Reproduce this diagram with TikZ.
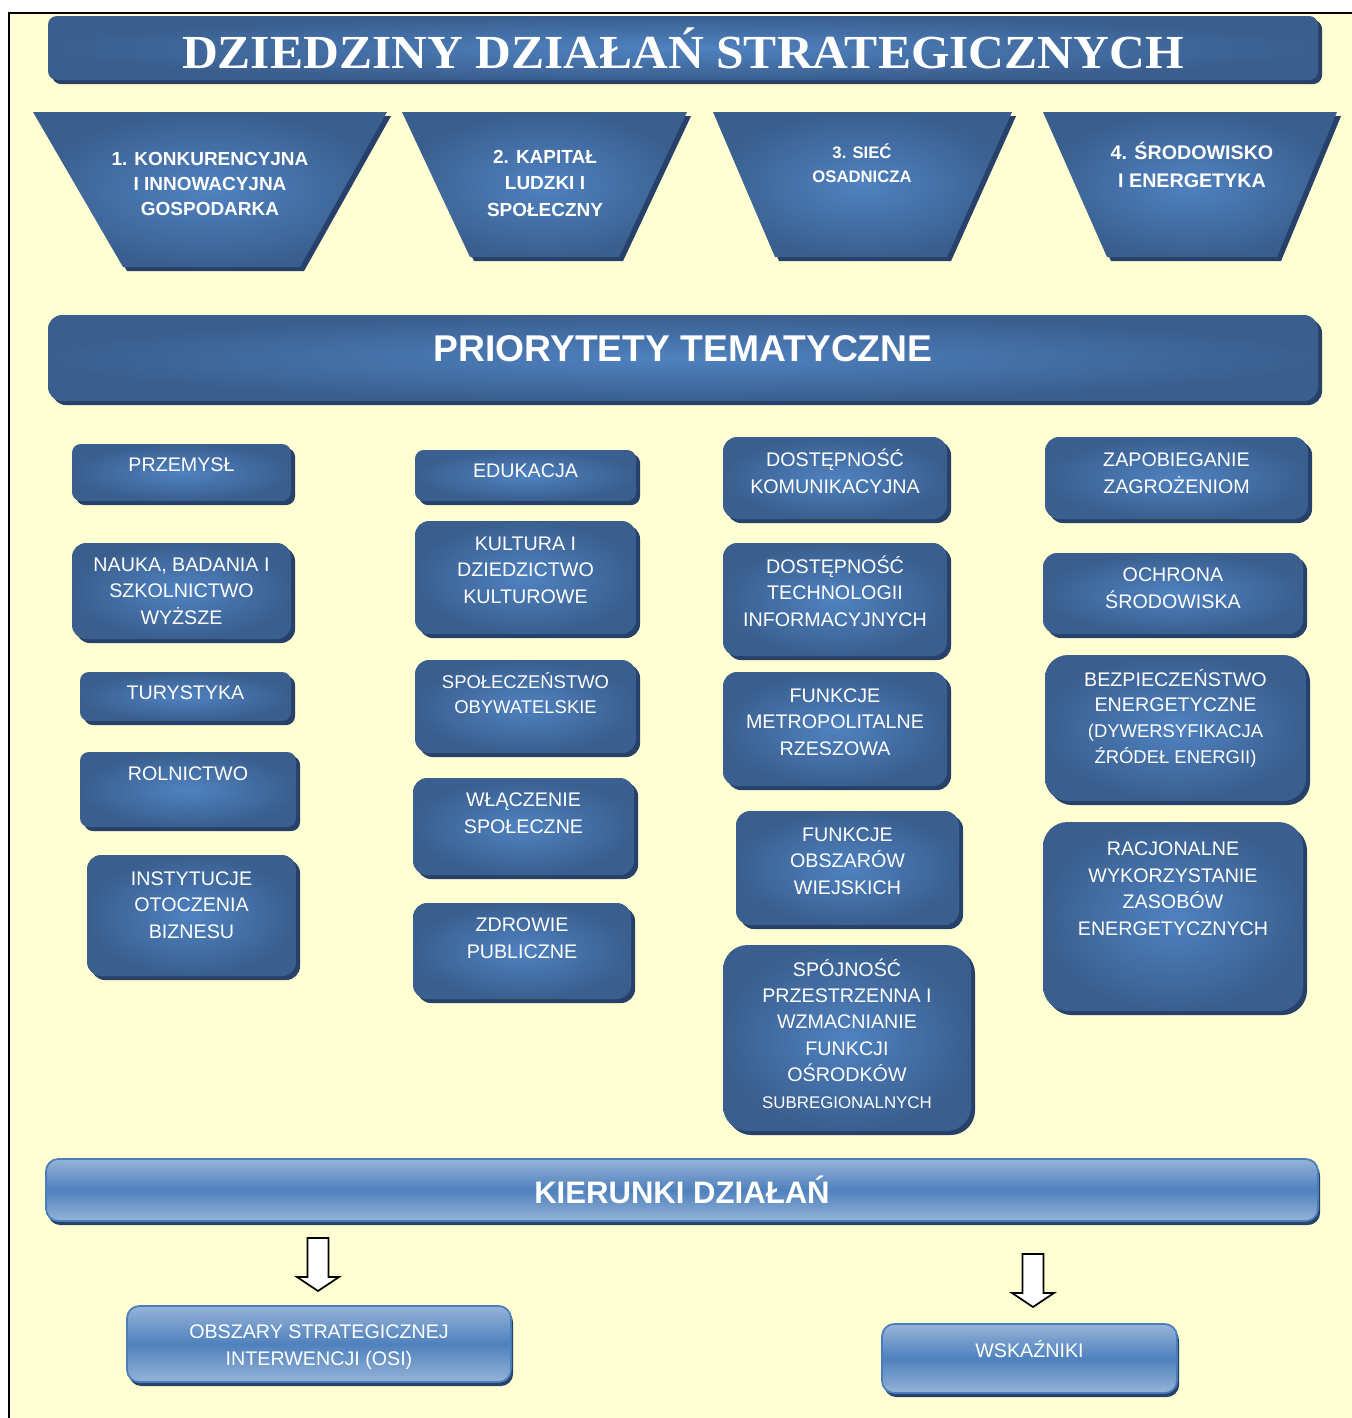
\documentclass[tikz,border=0pt]{standalone}
\usepackage{fontspec}
\setmainfont{Liberation Sans}
\newfontfamily\titlefont{Liberation Serif}
\usetikzlibrary{shadows,fit}

\definecolor{bgyellow}{HTML}{FFFFD3}
\definecolor{prouter}{HTML}{3A5F8F}
\definecolor{prinner}{HTML}{4F82C0}
\definecolor{prshadow}{HTML}{27416A}
\definecolor{kdlight}{HTML}{95B3D7}
\definecolor{kdmid}{HTML}{4F81BD}
\definecolor{kdline}{HTML}{4A7EBB}

\tikzset{
  prio/.style={rectangle, rounded corners=5pt, inner sep=0pt,
    inner color=prinner, outer color=prouter,
    general shadow={fill=prshadow, shadow xshift=2.3pt, shadow yshift=-2.3pt}},
  priobig/.style={prio, rounded corners=8pt},
  trap/.style={inner color=prinner, outer color=prouter,
    general shadow={fill=prshadow, shadow xshift=2.3pt, shadow yshift=-2.3pt}},
  prtext/.style={text=white, align=center, inner sep=0pt, anchor=base,
    font=\fontsize{11.2}{15}\selectfont},
  trtext/.style={prtext, font=\bfseries\fontsize{10.8}{14.2}\selectfont},
  kdbox/.style={rectangle, rounded corners=7pt, inner sep=0pt, draw=kdline, line width=1pt,
    top color=kdlight, bottom color=kdlight, middle color=kdmid,
    general shadow={fill=prshadow, shadow xshift=1.2pt, shadow yshift=-2.3pt}},
  blockarrow/.style={draw=black, fill=white, line width=1pt, line join=miter}
}

\begin{document}
\begin{tikzpicture}[x=0.02cm, y=-0.02cm]
  \useasboundingbox (0,0) rectangle (1352,1418);
  \fill[bgyellow] (9,13) rectangle (1352,1418);
  \draw[line width=1.2pt] (9,1418) -- (9,13) -- (1352,13);

  % tytul (tekst wielowierszowy ustawiany wg linii bazowej ostatniego wiersza)
  \node[prio, fit={(48,16) (1318,80)}] (dziedziny) {};
  \node[prtext, font=\titlefont\bfseries\fontsize{27}{30}\selectfont] (dziedzinyT)
    at (dziedziny.north |- 0,68) {\scalebox{1.045}[1]{DZIEDZINY DZIAŁAŃ STRATEGICZNYCH}};

  % cztery dziedziny
  \path[trap] (33,112) -- (387,112) -- (300,267) -- (123,267) -- cycle;
  \path[trap] (402,112) -- (687,112) -- (619,257) -- (470,257) -- cycle;
  \path[trap] (713,112) -- (1012,112) -- (947,257) -- (775,257) -- cycle;
  \path[trap] (1043,112) -- (1337,112) -- (1277,257) -- (1107,257) -- cycle;
  \node[trtext] (konkurencyjna) at (210,215) {1. KONKURENCYJNA\\I INNOWACYJNA\\GOSPODARKA};
  \node[trtext, font=\bfseries\fontsize{10.8}{15}\selectfont] (kapital) at (545,216) {2. KAPITAŁ\\LUDZKI I\\SPOŁECZNY};
  \node[trtext, font=\bfseries\fontsize{9.5}{13.6}\selectfont] (siec) at (862,182) {3. SIEĆ\\OSADNICZA};
  \node[trtext, font=\bfseries\fontsize{11.2}{15.4}\selectfont] (srodowisko) at (1192,187) {4. ŚRODOWISKO\\I ENERGETYKA};

  \node[prio, rounded corners=8pt, fit={(48,315) (1318,401)}] (priorytety) {};
  \node[prtext, font=\bfseries\fontsize{21.2}{24}\selectfont] (priorytetyT)
    at (priorytety.north |- 0,361) {PRIORYTETY TEMATYCZNE};

  % kolumna 1
  \node[prio, fit={(72,444) (291,501)}] (przemysl) {};
  \node[prtext] (przemyslT) at (przemysl.north |- 0,471) {PRZEMYSŁ};
  \node[priobig, fit={(72,543) (291,639)}] (nauka) {};
  \node[prtext] (naukaT) at (nauka.north |- 0,624) {NAUKA, BADANIA I\\SZKOLNICTWO\\WYŻSZE};
  \node[prio, fit={(80,672) (291,721)}] (turystyka) {};
  \node[prtext] (turystykaT) at (turystyka.north |- 0,699) {TURYSTYKA};
  \node[prio, fit={(80,752) (296,827)}] (rolnictwo) {};
  \node[prtext] (rolnictwoT) at (rolnictwo.north |- 0,780) {ROLNICTWO};
  \node[priobig, fit={(87,855) (296,976)}] (instytucje) {};
  \node[prtext] (instytucjeT) at (instytucje.north |- 0,938) {INSTYTUCJE\\OTOCZENIA\\BIZNESU};

  % kolumna 2
  \node[prio, fit={(415,450) (636,501)}] (edukacja) {};
  \node[prtext] (edukacjaT) at (edukacja.north |- 0,477) {EDUKACJA};
  \node[priobig, fit={(415,521) (636,634)}] (kultura) {};
  \node[prtext] (kulturaT) at (kultura.north |- 0,603) {KULTURA I\\DZIEDZICTWO\\KULTUROWE};
  \node[priobig, fit={(415,660) (636,753)}] (obywatelskie) {};
  \node[prtext, font=\fontsize{10.5}{14.2}\selectfont] (obywatelskieT)
    at (obywatelskie.north |- 0,713) {SPOŁECZEŃSTWO\\OBYWATELSKIE};
  \node[priobig, fit={(413,778) (634,875)}] (wlaczenie) {};
  \node[prtext] (wlaczenieT) at (wlaczenie.north |- 0,833) {WŁĄCZENIE\\SPOŁECZNE};
  \node[priobig, fit={(413,903) (631,999)}] (zdrowie) {};
  \node[prtext] (zdrowieT) at (zdrowie.north |- 0,958) {ZDROWIE\\PUBLICZNE};

  % kolumna 3
  \node[priobig, fit={(723,437) (947,519)}] (komunikacja) {};
  \node[prtext] (komunikacjaT) at (komunikacja.north |- 0,493) {DOSTĘPNOŚĆ\\KOMUNIKACYJNA};
  \node[priobig, fit={(723,543) (947,656)}] (technologie) {};
  \node[prtext] (technologieT) at (technologie.north |- 0,626) {DOSTĘPNOŚĆ\\TECHNOLOGII\\INFORMACYJNYCH};
  \node[priobig, fit={(723,672) (947,786)}] (metropolia) {};
  \node[prtext] (metropoliaT) at (metropolia.north |- 0,755) {FUNKCJE\\METROPOLITALNE\\RZESZOWA};
  \node[priobig, fit={(736,811) (959,925)}] (wies) {};
  \node[prtext] (wiesT) at (wies.north |- 0,894) {FUNKCJE\\OBSZARÓW\\WIEJSKICH};
  \node[prio, rounded corners=14pt, fit={(723,945) (971,1131)}] (spojnosc) {};
  \node[prtext] (spojnoscT) at (spojnosc.north |- 0,1108)
    {SPÓJNOŚĆ\\PRZESTRZENNA I\\WZMACNIANIE\\FUNKCJI\\OŚRODKÓW\\{\fontsize{9.6}{12}\selectfont SUBREGIONALNYCH}};

  % kolumna 4
  \node[priobig, fit={(1045,437) (1308,519)}] (zapobieganie) {};
  \node[prtext] (zapobieganieT) at (zapobieganie.north |- 0,493) {ZAPOBIEGANIE\\ZAGROŻENIOM};
  \node[priobig, fit={(1043,553) (1303,634)}] (ochrona) {};
  \node[prtext] (ochronaT) at (ochrona.north |- 0,608) {OCHRONA\\ŚRODOWISKA};
  \node[prio, rounded corners=13pt, fit={(1045,655) (1306,801)}] (bezpieczenstwo) {};
  \node[prtext, font=\fontsize{11.2}{14.6}\selectfont] (bezpieczenstwoT) at (bezpieczenstwo.north |- 0,763)
    {BEZPIECZEŃSTWO\\ENERGETYCZNE\\{\fontsize{10.5}{14.6}\selectfont(DYWERSYFIKACJA}\\{\fontsize{10.5}{14.6}\selectfont ŹRÓDEŁ ENERGII)}};
  \node[prio, rounded corners=14pt, fit={(1043,822) (1303,1011)}] (racjonalne) {};
  \node[prtext] (racjonalneT) at (racjonalne.north |- 0,935)
    {RACJONALNE\\WYKORZYSTANIE\\ZASOBÓW\\ENERGETYCZNYCH};

  % kierunki
  \node[kdbox, fit={(46,1159) (1318,1221)}] (kierunki) {};
  \node[prtext, font=\bfseries\fontsize{17.7}{20}\selectfont] (kierunkiT)
    at (kierunki.north |- 0,1203) {KIERUNKI DZIAŁAŃ};

  \coordinate (strzalka1) at (318,1238);
  \coordinate (strzalka2) at (1033,1254);
  \foreach \s in {strzalka1,strzalka2}
    \draw[blockarrow, shift={(\s)}] (-10.5,0) -- (10.5,0) -- (10.5,39) -- (21,39)
      -- (0,53) -- (-21,39) -- (-10.5,39) -- cycle;

  \node[kdbox, fit={(127,1306) (511,1382)}] (osi) {};
  \node[prtext] (osiT) at (osi.north |- 0,1365) {OBSZARY STRATEGICZNEJ\\INTERWENCJI (OSI)};
  \node[kdbox, fit={(882,1324) (1177,1393)}] (wskazniki) {};
  \node[prtext] (wskaznikiT) at (wskazniki.north |- 0,1357) {WSKAŹNIKI};
\end{tikzpicture}
\end{document}
